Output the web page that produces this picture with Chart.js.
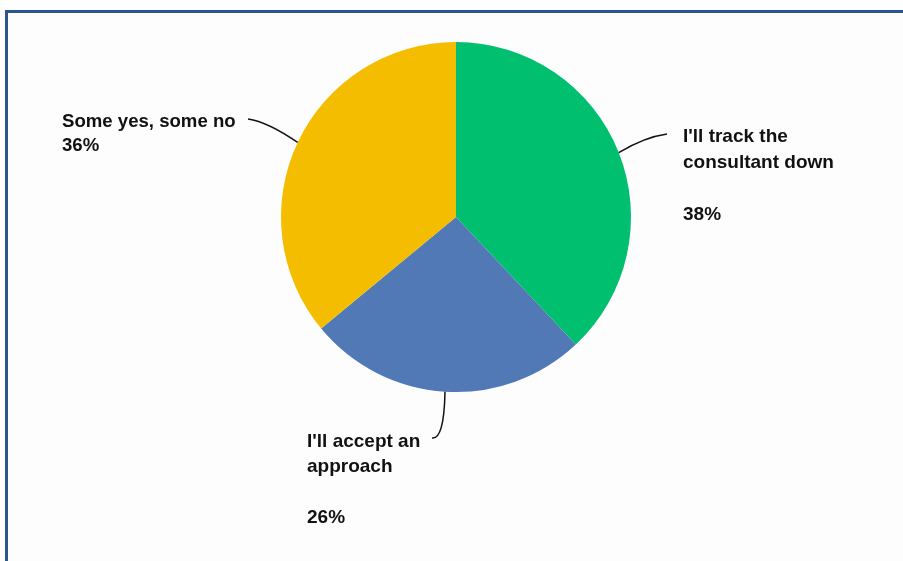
<!DOCTYPE html>
<html lang="en">
<head>
    <meta charset="UTF-8">
    <title>Pie chart</title>
    <script src="https://cdn.jsdelivr.net/npm/chart.js"></script>
    <style>
        html, body { margin: 0; padding: 0; background: #fff; }
        .wrap { position: relative; width: 903px; height: 561px; overflow: hidden; }
        .frame {
            position: absolute; left: 5px; top: 10px; width: 920px; height: 580px;
            border-left: 3px solid #2b5591; border-top: 3px solid #2b5591;
            background: #fdfdfd;
        }
        canvas { position: absolute; left: 0; top: 0; }
    </style>
</head>
<body>
<div class="wrap">
    <div class="frame"></div>
    <canvas id="pie" width="903" height="561"></canvas>
</div>
<script>
    // answers and their share (%)
    const answers = ["I'll track the consultant down", "I'll accept an approach", "Some yes, some no"];
    const shares = [38, 26, 36];
    const sliceColors = ['#00bf6f', '#5079b5', '#f4bd00'];

    // label lines, one array per slice
    const labelLines = [
        ["I'll track the", 'consultant down', '', '38%'],
        ["I'll accept an", 'approach', '', '26%'],
        ['Some yes, some no', '36%']
    ];

    // where each label sits and where its leader ends
    const labelLayout = [
        { x: 683, y: 142, size: 19, lineH: 26, gapH: 26, endX: 667, endY: 134, cx: 645, cy: 137 },
        { x: 307, y: 447, size: 19, lineH: 25, gapH: 26, endX: 432, endY: 438, cx: 444, cy: 440 },
        { x: 62, y: 127, size: 18.6, lineH: 24, gapH: 24, endX: 248, endY: 119, cx: 268, cy: 122 }
    ];

    const calloutPlugin = {
        id: 'callouts',
        afterDatasetsDraw(chart) {
            const ctx = chart.ctx;
            const arcs = chart.getDatasetMeta(0).data;
            ctx.save();
            arcs.forEach((arc, i) => {
                const p = arc.getProps(['x', 'y', 'startAngle', 'endAngle', 'outerRadius'], true);
                const mid = (p.startAngle + p.endAngle) / 2;
                const sx = p.x + Math.cos(mid) * p.outerRadius;
                const sy = p.y + Math.sin(mid) * p.outerRadius;
                const lay = labelLayout[i];

                ctx.strokeStyle = '#111';
                ctx.lineWidth = 1.5;
                ctx.beginPath();
                ctx.moveTo(sx, sy);
                ctx.quadraticCurveTo(lay.cx, lay.cy, lay.endX, lay.endY);
                ctx.stroke();

                ctx.fillStyle = '#111';
                ctx.font = 'bold ' + lay.size + 'px "Liberation Sans", Arial, sans-serif';
                ctx.textBaseline = 'alphabetic';
                ctx.textAlign = 'left';
                let y = lay.y;
                labelLines[i].forEach(line => {
                    if (line === '') { y += lay.gapH; return; }
                    ctx.fillText(line, lay.x, y);
                    y += lay.lineH;
                });
            });
            ctx.restore();
        }
    };

    new Chart(document.getElementById('pie'), {
        type: 'pie',
        data: {
            labels: answers,
            datasets: [{
                data: shares,
                backgroundColor: sliceColors,
                borderWidth: 0,
                hoverOffset: 0
            }]
        },
        options: {
            responsive: false,
            animation: false,
            events: [],
            layout: { padding: { left: 281, right: 272, top: 42, bottom: 169 } },
            plugins: {
                legend: { display: false },
                tooltip: { enabled: false }
            }
        },
        plugins: [calloutPlugin]
    });
</script>
</body>
</html>
